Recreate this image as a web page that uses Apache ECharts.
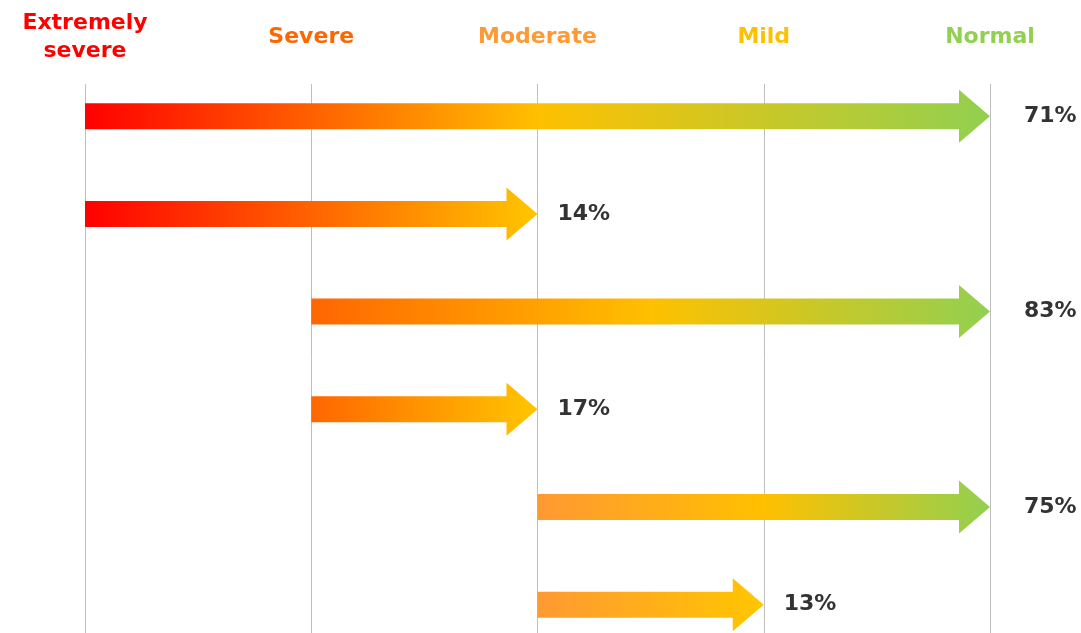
<!DOCTYPE html>
<html>
<head>
<meta charset="utf-8">
<script src="https://cdn.jsdelivr.net/npm/echarts@6/dist/echarts.min.js"></script>
<style>
    html, body {margin: 0; padding: 0; background: #fff;}
    #chart {width: 1081px; height: 633px;}
</style>
</head>
<body>
<div id="chart"></div>
<script>
// severity stages along the top
var stages = ['Extremely\nsevere', 'Severe', 'Moderate', 'Mild', 'Normal'];
var stageColors = ['#FF0000', '#FF6600', '#FF9933', '#FFC000', '#92D050'];

// one arrow per row: from stage -> to stage, with share
var rows = [0, 1, 2, 3, 4, 5];
var fromStage = [0, 0, 1, 1, 2, 2];
var toStage = [4, 2, 4, 2, 4, 3];
var shares = [71, 14, 83, 17, 75, 13];

var data = [];
for (var i = 0; i < rows.length; i++) {
    data.push([fromStage[i], toStage[i], rows[i], shares[i]]);
}

function renderArrow(params, api) {
    var start = api.coord([api.value(0), api.value(2)]);
    var end = api.coord([api.value(1), api.value(2)]);
    var bodyH = 13, headH = 26.5, headW = 31;
    var x0 = start[0], x1 = end[0], y = start[1];
    var stops;
    if (api.value(1) == 4) {
        stops = [
            {offset: 0, color: stageColors[api.value(0)]},
            {offset: 0.5, color: '#FFC000'},
            {offset: 1, color: '#92D050'}
        ];
    } else {
        stops = [
            {offset: 0, color: stageColors[api.value(0)]},
            {offset: 1, color: '#FFC600'}
        ];
    }
    // labels on the right edge sit a bit further out
    var gap = api.value(1) == 4 ? 34 : 20;
    return {
        type: 'group',
        children: [{
            type: 'polygon',
            shape: {
                points: [
                    [x0, y - bodyH], [x1 - headW, y - bodyH], [x1 - headW, y - headH],
                    [x1, y], [x1 - headW, y + headH], [x1 - headW, y + bodyH], [x0, y + bodyH]
                ]
            },
            style: {
                fill: new echarts.graphic.LinearGradient(0, 0, 1, 0, stops)
            }
        }, {
            type: 'text',
            x: x1 + gap,
            y: y,
            style: {
                text: api.value(3) + '%',
                fill: '#333333',
                font: 'bold 22px "DejaVu Sans", sans-serif',
                align: 'left',
                verticalAlign: 'middle'
            }
        }]
    };
}

var option = {
    animation: false,
    grid: {
        left: 85,
        right: 91,
        top: 84,
        bottom: 0
    },
    xAxis: {
        type: 'value',
        position: 'top',
        min: 0,
        max: 4,
        interval: 1,
        axisLine: {show: false},
        axisTick: {show: false},
        splitLine: {show: true, lineStyle: {color: '#BFBFBF', width: 1}},
        axisLabel: {
            margin: 47,
            verticalAlign: 'middle',
            fontSize: 22,
            lineHeight: 28,
            fontWeight: 'bold',
            fontFamily: 'DejaVu Sans',
            formatter: function (v) {
                return stages[v];
            },
            color: function (v) {
                return stageColors[v];
            }
        }
    },
    yAxis: {
        type: 'value',
        inverse: true,
        min: -0.33,
        max: 5.29,
        show: false,
        splitLine: {show: false}
    },
    series: [{
        type: 'custom',
        renderItem: renderArrow,
        encode: {x: [0, 1], y: 2},
        data: data,
        clip: false
    }]
};

var myChart = echarts.init(document.getElementById('chart'));
myChart.setOption(option);
</script>
</body>
</html>
